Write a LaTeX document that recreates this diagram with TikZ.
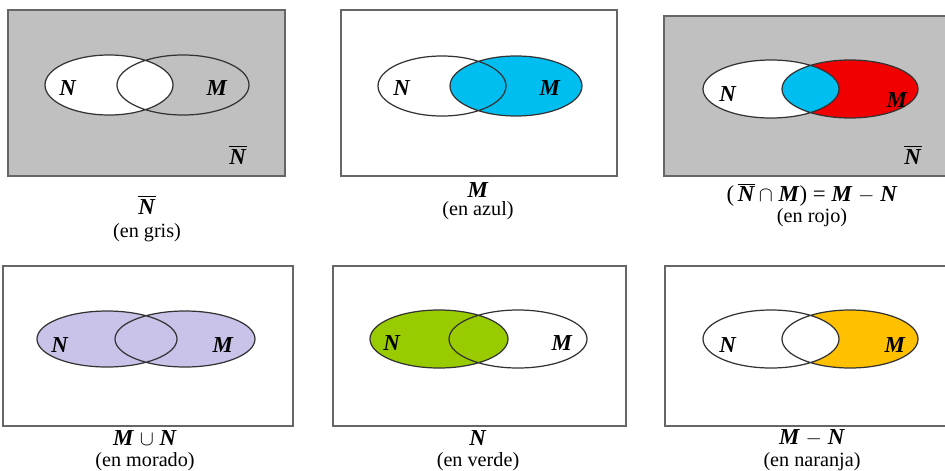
\documentclass[tikz,border=0pt]{standalone}
\usepackage{fontspec}
\setmainfont{Liberation Serif}
\usetikzlibrary{positioning}

\definecolor{gris}{RGB}{192,192,192}
\definecolor{azul}{RGB}{0,191,240}
\definecolor{rojo}{RGB}{240,0,0}
\definecolor{morado}{RGB}{201,195,234}
\definecolor{verde}{RGB}{153,204,0}
\definecolor{naranja}{RGB}{255,192,0}

\newcommand{\setN}{\textbf{\textit{N}}}
\newcommand{\setM}{\textbf{\textit{M}}}
\newcommand{\compN}{$\overline{\hbox{\setN}}$}

\begin{document}
\begin{tikzpicture}[x=0.02cm,y=-0.02cm,
    marco/.style={draw=black!60,line width=1pt},
    borde/.style={draw=black!80,line width=0.7pt},
    letra/.style={font=\fontsize{13}{15}\selectfont,inner sep=0pt},
    pie/.style={font=\fontsize{11.5}{13}\selectfont,inner sep=0pt},
    elN/.style={x radius=64,y radius=30},
    elM/.style={x radius=66,y radius=30}]
    \useasboundingbox (0,0) rectangle (945,470);
    \clip (0,0) rectangle (945,470);

    % complemento de N
    \coordinate (cn1) at (109,85);
    \coordinate (cm1) at (183,85);
    \fill[gris] (8,10) rectangle (285,176);
    \fill[white] (cn1) ellipse [elN];
    \draw[borde] (cn1) ellipse [elN] (cm1) ellipse [elM];
    \draw[marco] (8,10) rectangle (285,176);
    \node[letra] (n1) at (68,88) {\setN};
    \node[letra] (m1) at (217,88) {\setM};
    \node[letra] (c1) at (238,155) {\compN};
    \node[letra] (f1) at (147,205) {\compN};
    \node[pie] (t1) at (147,233) {(en gris)};

    % M en azul
    \coordinate (cn2) at (442,86);
    \coordinate (cm2) at (516,86);
    \fill[azul] (cm2) ellipse [elM];
    \draw[borde] (cn2) ellipse [elN] (cm2) ellipse [elM];
    \draw[marco] (341,10) rectangle (617,176);
    \node[letra] (n2) at (402,88) {\setN};
    \node[letra] (m2) at (550,88) {\setM};
    \node[letra] (f2) at (478,190) {\setM};
    \node[pie] (t2) at (478,211) {(en azul)};

    % complemento de N con M en rojo
    \coordinate (cn3) at (771,89);
    \coordinate (cm3) at (850,89);
    \fill[gris] (664,16) rectangle (960,176);
    \fill[white] (cn3) ellipse [x radius=68,y radius=29];
    \fill[rojo] (cm3) ellipse [x radius=68,y radius=29];
    \begin{scope}
        \clip (cn3) ellipse [x radius=68,y radius=29];
        \fill[azul] (cm3) ellipse [x radius=68,y radius=29];
    \end{scope}
    \draw[borde] (cn3) ellipse [x radius=68,y radius=29]
        (cm3) ellipse [x radius=68,y radius=29];
    \draw[marco] (664,16) rectangle (960,176);
    \node[letra] (n3) at (728,94) {\setN};
    \node[letra] (m3) at (897,100) {\setM};
    \node[letra] (c3) at (913,155) {\compN};
    \node[letra] (f3) at (812,195) {(\,\compN\,$\cap$ \setM) = \setM\ $-$ \setN};
    \node[pie] (t3) at (812,218) {(en rojo)};

    % union en morado
    \coordinate (cn4) at (107,339);
    \coordinate (cm4) at (185,339);
    \fill[morado] (cn4) ellipse [x radius=70,y radius=28]
        (cm4) ellipse [x radius=70,y radius=28];
    \draw[borde] (cn4) ellipse [x radius=70,y radius=28]
        (cm4) ellipse [x radius=70,y radius=28];
    \draw[marco] (3,266) rectangle (293,426);
    \node[letra] (n4) at (60,345) {\setN};
    \node[letra] (m4) at (223,345) {\setM};
    \node[letra] (f4) at (145,438) {\setM\ $\cup$ \setN};
    \node[pie] (t4) at (145,462) {(en morado)};

    % N en verde
    \coordinate (cn5) at (439,339);
    \coordinate (cm5) at (518,339);
    \fill[verde] (cn5) ellipse [x radius=69,y radius=29];
    \draw[borde] (cn5) ellipse [x radius=69,y radius=29]
        (cm5) ellipse [x radius=69,y radius=29];
    \draw[marco] (333,266) rectangle (626,426);
    \node[letra] (n5) at (392,343) {\setN};
    \node[letra] (m5) at (562,343) {\setM};
    \node[letra] (f5) at (478,438) {\setN};
    \node[pie] (t5) at (478,462) {(en verde)};

    % M - N en naranja
    \coordinate (cn6) at (771,339);
    \coordinate (cm6) at (850,339);
    \fill[naranja] (cm6) ellipse [x radius=68,y radius=29];
    \fill[white] (cn6) ellipse [x radius=68,y radius=29];
    \draw[borde] (cn6) ellipse [x radius=68,y radius=29]
        (cm6) ellipse [x radius=68,y radius=29];
    \draw[marco] (665,266) rectangle (960,426);
    \node[letra] (n6) at (728,345) {\setN};
    \node[letra] (m6) at (895,345) {\setM};
    \node[letra] (f6) at (812,438) {\setM\ $-$ \setN};
    \node[pie] (t6) at (812,462) {(en naranja)};
\end{tikzpicture}
\end{document}
